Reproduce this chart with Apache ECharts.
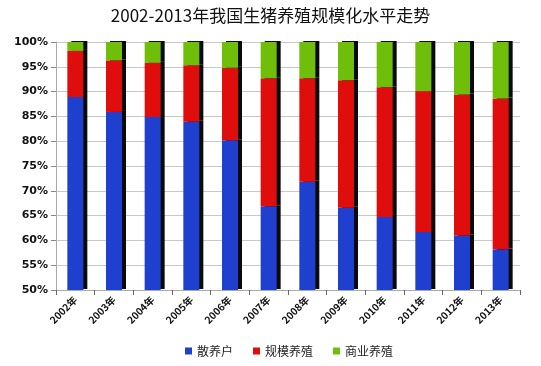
<!DOCTYPE html>
<html><head><meta charset="utf-8">
<script src="https://cdn.jsdelivr.net/npm/echarts@6/dist/echarts.min.js"></script>
<style>html,body{margin:0;padding:0;background:#fff}#c{width:541px;height:366px}</style>
</head><body><div id="c"></div>
<script>
const categories = ['2002年','2003年','2004年','2005年','2006年','2007年','2008年','2009年','2010年','2011年','2012年','2013年'];
const sanyang = [88.9, 85.9, 84.9, 83.9, 80.2, 66.9, 71.8, 66.6, 64.7, 61.7, 61.0, 58.2];
const guimo = [9.3, 10.4, 10.9, 11.4, 14.6, 25.8, 20.9, 25.7, 26.2, 28.4, 28.4, 30.4];
const shangye = [1.8, 3.7, 4.2, 4.7, 5.2, 7.3, 7.3, 7.7, 9.1, 9.9, 10.6, 11.4];
const seriesNames = ['散养户','规模养殖','商业养殖'];
const colors = ['#1f3fcf','#e00d0d','#6fbf0a'];

const chart = echarts.init(document.getElementById('c'));
const mk = (name, data, color) => ({
  name, type: 'bar', stack: 'all', data, barWidth: 16,
  itemStyle: { color, shadowColor: '#0a0a0a', shadowBlur: 0, shadowOffsetX: 4, shadowOffsetY: -1 }
});
chart.setOption({
  animation: false,
  title: { text: '2002-2013年我国生猪养殖规模化水平走势', left: 'center', top: 2,
    textStyle: { fontSize: 17, fontWeight: 'normal', color: '#111', fontFamily: 'Noto Sans CJK SC' } },
  legend: { bottom: 4, left: 180, itemWidth: 7, itemHeight: 7, itemGap: 20, icon: 'rect',
    textStyle: { fontSize: 12, color: '#222', fontFamily: 'Noto Sans CJK SC' } },
  grid: { left: 56, right: 21, top: 42, bottom: 76 },
  xAxis: { type: 'category', data: categories,
    axisLine: { lineStyle: { color: '#aaa' } }, axisTick: { show: true, lineStyle: { color: '#666' } },
    axisLabel: { rotate: 45, fontSize: 10, color: '#111', fontWeight: 'bold', margin: 8, fontFamily: 'Noto Sans CJK SC' } },
  yAxis: { type: 'value', min: 50, max: 100, interval: 5,
    axisLine: { show: true, lineStyle: { color: '#aaa' } }, axisTick: { show: true, lineStyle: { color: '#888' } },
    splitLine: { lineStyle: { color: '#c8c8c8' } },
    axisLabel: { formatter: '{value}%', fontSize: 11, color: '#111', fontWeight: 'bold', fontFamily: 'DejaVu Sans' } },
  series: [mk(seriesNames[0], sanyang, colors[0]), mk(seriesNames[1], guimo, colors[1]), mk(seriesNames[2], shangye, colors[2])]
});
</script></body></html>
